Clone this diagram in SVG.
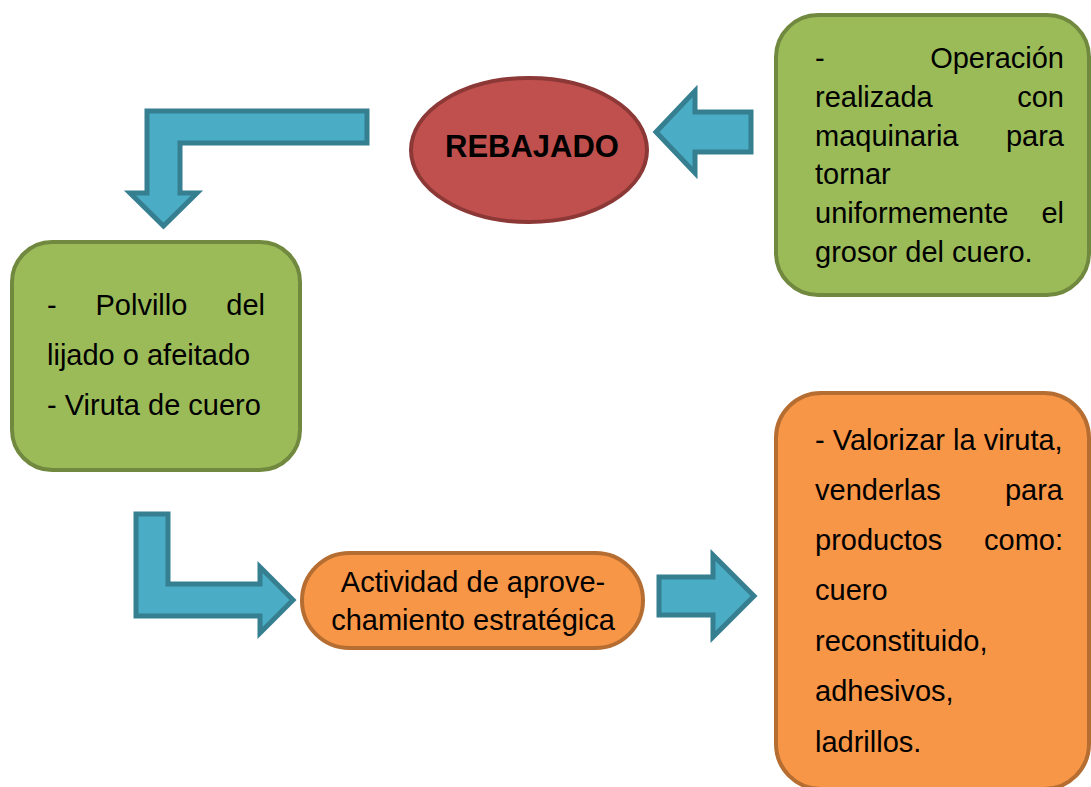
<svg xmlns="http://www.w3.org/2000/svg" width="1091" height="787" viewBox="0 0 1091 787">
<style>
.green{fill:#9bbb59;stroke:#71893f;stroke-width:4}
.orange{fill:#f79646;stroke:#b66d31;stroke-width:4}
.red{fill:#c0504d;stroke:#8c3836;stroke-width:4}
.arrow{fill:#4bacc6;stroke:#357f90;stroke-width:5;stroke-linejoin:miter}
text{font-family:"Liberation Sans",Arial,sans-serif;font-size:29px;fill:#000}
.e{text-anchor:end}
.m{text-anchor:middle}
.b{font-weight:bold;font-size:31px}
</style>
<rect width="1091" height="787" fill="#fff"/>
<g id="connectors">
<polygon class="arrow" points="367,111 367,143 180,143 180,193 197,193 163.5,226 130,193 147,193 147,111"/>
<polygon class="arrow" points="656,132 695,91 695,112 751,112 751,152 695,152 695,173"/>
<polygon class="arrow" points="136,514 168,514 168,584 260,584 260,567 293,600 260,633 260,616 136,616"/>
<polygon class="arrow" points="659,577 713,577 713,555 754,596 713,637 713,615 659,615"/>
</g>
<g id="rebajado">
<ellipse class="red" cx="529" cy="150" rx="118" ry="72"/>
<text class="m b" x="532" y="157">REBAJADO</text>
</g>
<g id="operacion">
<rect class="green" x="776" y="15" width="313" height="280" rx="42"/>
<text x="815" y="68">-</text><text class="e" x="1064" y="68">Operación</text>
<text x="815" y="107">realizada</text><text class="e" x="1064" y="107">con</text>
<text x="815" y="146">maquinaria</text><text class="e" x="1064" y="146">para</text>
<text x="815" y="184">tornar</text>
<text x="815" y="223">uniformemente</text><text class="e" x="1064" y="223">el</text>
<text x="815" y="262">grosor del cuero.</text>
</g>
<g id="residuos">
<rect class="green" x="12" y="242" width="288" height="228" rx="40"/>
<text x="47" y="315">-</text><text x="95.5" y="315">Polvillo</text><text class="e" x="265" y="315">del</text>
<text x="47" y="365">lijado o afeitado</text>
<text x="47" y="415">- Viruta de cuero</text>
</g>
<g id="actividad">
<rect class="orange" x="302" y="553" width="341" height="95" rx="47.5"/>
<text class="m" x="473" y="592">Actividad de aprove-</text>
<text class="m" x="473" y="630">chamiento estratégica</text>
</g>
<g id="valorizar">
<rect class="orange" x="776" y="393" width="313" height="396" rx="45"/>
<text x="815" y="450">- Valorizar la viruta,</text>
<text x="815" y="500">venderlas</text><text class="e" x="1063" y="500">para</text>
<text x="815" y="550">productos</text><text class="e" x="1063" y="550">como:</text>
<text x="815" y="600">cuero</text>
<text x="815" y="651">reconstituido,</text>
<text x="815" y="701">adhesivos,</text>
<text x="815" y="752">ladrillos.</text>
</g>
</svg>
